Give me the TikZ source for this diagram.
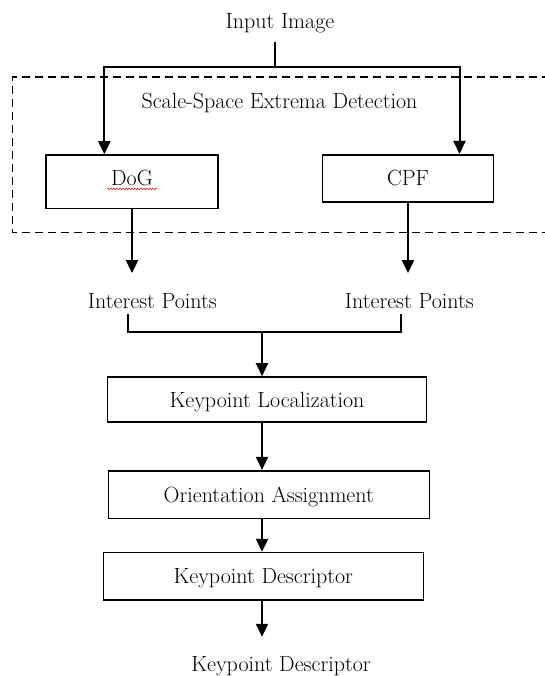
\documentclass[tikz,border=0pt]{standalone}
\usepackage{fontspec}
\usetikzlibrary{arrows.meta, decorations.pathmorphing}

\begin{document}
\begin{tikzpicture}
[every node/.style={inner sep=0pt, font=\fontsize{22pt}{26pt}\selectfont},
 stage/.style={draw=black, line width=1.6pt, text height=15pt, text depth=0pt},
 txt/.style={anchor=base},
 wire/.style={line width=2pt, color=black},
 flow/.style={wire, -{Triangle[width=12pt, length=13pt]}},
 frame/.style={line width=1.6pt, dash pattern=on 8pt off 5pt},
 squiggle/.style={red, line width=0.5pt, decorate, decoration={snake, amplitude=0.8pt, segment length=3pt}}]
\useasboundingbox (0pt, 0pt) rectangle (545pt, -676pt);
\node (in) [txt] at (280.0pt, -28.3pt) {Input Image};
\node (sse) [txt] at (279.5pt, -108.3pt) {Scale-Space Extrema Detection};
\node (dog) [stage, text depth=6.8pt, minimum width=172pt, minimum height=53.3pt] at (132.0pt, -181.7pt) {DoG};
\node (cpf) [stage, minimum width=171pt, minimum height=47pt] at (408.0pt, -178.3pt) {CPF};
\node (ipl) [txt] at (152.4pt, -308.3pt) {Interest Points};
\node (ipr) [txt] at (409.3pt, -308.3pt) {Interest Points};
\node (kl) [stage, minimum width=319pt, minimum height=45pt] at (267.0pt, -399.5pt) {Keypoint Localization};
\node (oa) [stage, minimum width=321pt, minimum height=47.6pt] at (268.8pt, -494.5pt) {Orientation Assignment};
\node (kd) [stage, minimum width=320pt, minimum height=47.3pt] at (263.3pt, -576.3pt) {Keypoint Descriptor};
\node (out) [txt] at (281.0pt, -671.0pt) {Keypoint Descriptor};
\coordinate (split) at (274.6pt, -66.7pt);
\coordinate (join) at (262.0pt, -332.0pt);
% dashed frame, open on the right
\draw [frame] (550pt, -77.3pt) -| (12.5pt, -232.3pt) -- (550pt, -232.3pt);
\draw [squiggle] ([xshift=-25pt, yshift=-7.2pt]dog.center) -- ([xshift=25pt, yshift=-7.2pt]dog.center);
\draw [wire, shorten <=9pt] (in.south -| split) -- (split);
\draw [flow] (split) -| ([xshift=-27.7pt]dog.north);
\draw [flow] (split) -| ([xshift=51.5pt]cpf.north);
\draw [flow, shorten >=20pt] (dog.south) -- (dog.south |- ipl.north);
\draw [flow, shorten >=20pt] (cpf.south) -- (cpf.south |- ipr.north);
\draw [wire] ([xshift=-24.8pt, yshift=-5.4pt]ipl.south) |- (join) -| ([xshift=-8.5pt, yshift=-5.4pt]ipr.south);
\draw [flow] (join) -- (join |- kl.north);
\draw [flow] (kl.south -| join) -- (oa.north -| join);
\draw [flow] (oa.south -| join) -- (kd.north -| join);
\draw [flow, shorten >=19pt] (kd.south -| join) -- (out.north -| join);
\end{tikzpicture}
\end{document}
